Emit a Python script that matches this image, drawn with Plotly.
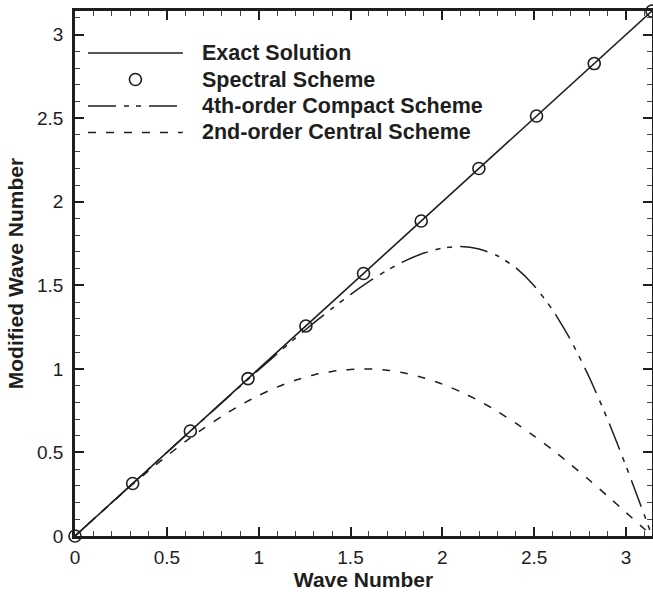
import plotly.graph_objects as go

# ---- data ----
wave_number = [0.0, 0.1, 0.2, 0.3, 0.4, 0.5, 0.6, 0.7, 0.8, 0.9, 1.0, 1.1, 1.2, 1.3,
               1.4, 1.5, 1.6, 1.7, 1.8, 1.9, 2.0, 2.1, 2.2, 2.3, 2.4, 2.5, 2.6, 2.7,
               2.8, 2.9, 3.0, 3.1, 3.1416]
exact = [0.0, 0.1, 0.2, 0.3, 0.4, 0.5, 0.6, 0.7, 0.8, 0.9, 1.0, 1.1, 1.2, 1.3,
         1.4, 1.5, 1.6, 1.7, 1.8, 1.9, 2.0, 2.1, 2.2, 2.3, 2.4, 2.5, 2.6, 2.7,
         2.8, 2.9, 3.0, 3.1, 3.1416]
compact4 = [0.0, 0.100, 0.200, 0.300, 0.400, 0.500, 0.600, 0.699, 0.798, 0.896,
            0.994, 1.090, 1.184, 1.275, 1.362, 1.445, 1.522, 1.590, 1.648, 1.693,
            1.722, 1.732, 1.718, 1.677, 1.605, 1.498, 1.353, 1.170, 0.950, 0.697,
            0.419, 0.125, 0.0]
central2 = [0.0, 0.100, 0.199, 0.296, 0.389, 0.479, 0.565, 0.644, 0.717, 0.783,
            0.841, 0.891, 0.932, 0.964, 0.985, 0.997, 1.000, 0.992, 0.974, 0.946,
            0.909, 0.863, 0.809, 0.746, 0.675, 0.598, 0.516, 0.427, 0.335, 0.239,
            0.141, 0.042, 0.0]
spectral_k = [0.0, 0.314, 0.628, 0.942, 1.257, 1.571, 1.885, 2.199, 2.513, 2.827, 3.1416]
spectral_y = [0.0, 0.314, 0.628, 0.942, 1.257, 1.571, 1.885, 2.199, 2.513, 2.827, 3.1416]

series_names = ["Exact Solution", "Spectral Scheme",
                "4th-order Compact Scheme", "2nd-order Central Scheme"]
tick_vals = [0, 0.5, 1, 1.5, 2, 2.5, 3]
tick_text = ["0", "0.5", "1", "1.5", "2", "2.5", "3"]
axis_max = 3.1416

INK = "#1e1e1e"
DASHDOT = "28px,8px,5px,7px,5px,8px"
DASHED = "8px,10px"
FONT = "Liberation Sans, Arial, Helvetica, sans-serif"

fig = go.Figure()
fig.add_trace(go.Scatter(x=wave_number, y=exact, mode="lines",
                         line=dict(color=INK, width=1.6), name=series_names[0],
                         showlegend=False))
fig.add_trace(go.Scatter(x=wave_number, y=compact4, mode="lines",
                         line=dict(color=INK, width=1.5, dash=DASHDOT, shape="spline", smoothing=0.6),
                         name=series_names[2], showlegend=False, cliponaxis=False))
fig.add_trace(go.Scatter(x=wave_number, y=central2, mode="lines",
                         line=dict(color=INK, width=1.5, dash=DASHED, shape="spline", smoothing=0.6),
                         name=series_names[3], showlegend=False, cliponaxis=False))
fig.add_trace(go.Scatter(x=spectral_k, y=spectral_y, mode="markers",
                         marker=dict(symbol="circle-open", size=12, color=INK,
                                     line=dict(width=1.6, color=INK)),
                         name=series_names[1], showlegend=False, cliponaxis=False))

# ---- custom legend (long line samples as in the reference) ----
row_y = [0.920, 0.8695, 0.819, 0.7686]
x0, x1, xt = 0.0225, 0.1869, 0.216
shapes = []
annotations = []
styles = ["solid", None, DASHDOT, DASHED]
for name, yy, st in zip(series_names, row_y, styles):
    if st is None:
        xc = (x0 + x1) / 2
        shapes.append(dict(type="circle", xref="paper", yref="paper",
                           xsizemode="pixel", ysizemode="pixel",
                           xanchor=xc, yanchor=yy, x0=-6, x1=6, y0=-6, y1=6,
                           line=dict(color=INK, width=1.6)))
    else:
        shapes.append(dict(type="line", xref="paper", yref="paper",
                           x0=x0, x1=x1, y0=yy, y1=yy,
                           line=dict(color=INK, width=1.6, dash=st)))
    annotations.append(dict(xref="paper", yref="paper", x=xt, y=yy, text="<b>%s</b>" % name,
                            showarrow=False, xanchor="left", yanchor="middle",
                            font=dict(family=FONT, size=21.5, color=INK)))

axis_common = dict(
    range=[0, axis_max], tickvals=tick_vals, ticktext=tick_text, automargin=False,
    showgrid=False, zeroline=False, showline=True, linewidth=2.5, linecolor=INK,
    mirror="allticks", ticks="inside", ticklen=9, tickwidth=2, tickcolor=INK,
    minor=dict(dtick=0.1, ticks="inside", ticklen=5, tickwidth=1.3, tickcolor="#444", showgrid=False),
    tickfont=dict(family=FONT, size=19, color=INK),
)

fig.update_layout(
    width=653, height=593,
    margin=dict(l=75, r=1, t=11, b=57),
    paper_bgcolor="white", plot_bgcolor="white",
    showlegend=False,
    xaxis=dict(**axis_common, ticklabelstandoff=2,
               title=dict(text="<b>Wave Number</b>", standoff=1,
                          font=dict(family=FONT, size=21, color=INK))),
    yaxis=dict(**axis_common, ticklabelstandoff=5,
               title=dict(text="<b>Modified Wave Number</b>", standoff=8,
                          font=dict(family=FONT, size=21, color=INK))),
    shapes=shapes, annotations=annotations,
)

# remove the page's default body margin and scrollbars so the figure fills the window
fig.write_html("out.html",
               config={"displayModeBar": False},
               post_script="document.body.style.margin='0';"
                           "document.body.style.overflow='hidden';")
